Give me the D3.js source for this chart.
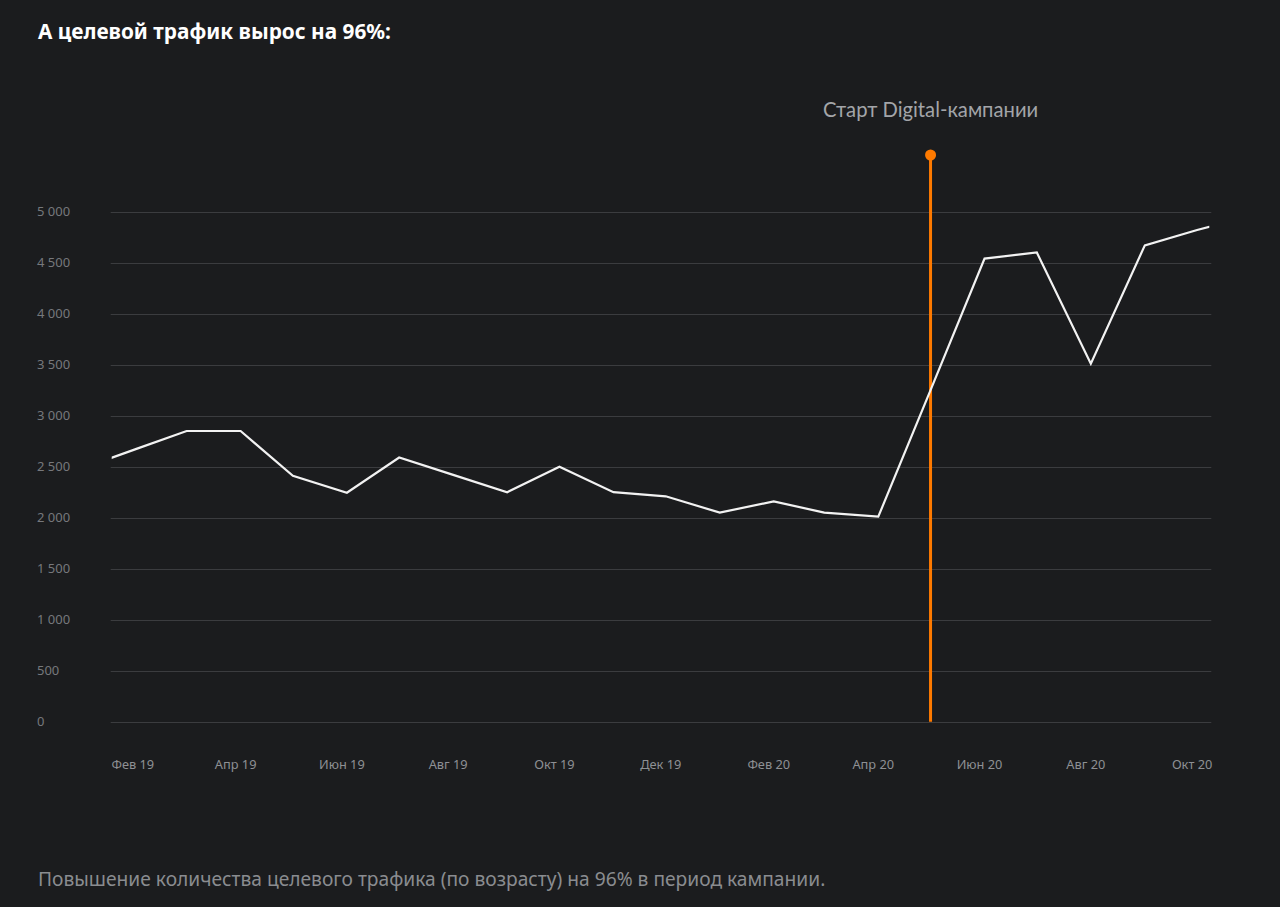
<!DOCTYPE html>
<html><head><meta charset="utf-8">
<script src="https://cdn.jsdelivr.net/npm/d3@7"></script>
<style>
html,body{margin:0;padding:0;background:#1b1c1e;}
svg{display:block;}
</style></head>
<body>
<svg id="chart" width="1280" height="907"></svg>
<script>
const months = ["2019-01","2019-02","2019-03","2019-04","2019-05","2019-06","2019-07","2019-08","2019-09","2019-10","2019-11","2019-12",
                "2020-01","2020-02","2020-03","2020-04","2020-05","2020-06","2020-07","2020-08","2020-09","2020-10","2020-11"];
const traffic = [2490,2680,2850,2850,2410,2245,2590,2420,2250,2500,2250,2210,
                 2050,2160,2050,2010,3250,4540,4600,3510,4670,4820,4960];
const yTicks = [0,500,1000,1500,2000,2500,3000,3500,4000,4500,5000];
const xTickMonths = ["2019-02","2019-04","2019-06","2019-08","2019-10","2019-12","2020-02","2020-04","2020-06","2020-08","2020-10"];
const xTickLabels = ["Фев 19","Апр 19","Июн 19","Авг 19","Окт 19","Дек 19","Фев 20","Апр 20","Июн 20","Авг 20","Окт 20"];
const campaignMonth = "2020-05";
const campaignLabel = "Старт Digital-кампании";
const titleText = "А целевой трафик вырос на 96%:";
const captionText = "Повышение количества целевого трафика (по возрасту) на 96% в период кампании.";

const parseM = s => { const [y,m] = s.split("-").map(Number); return new Date(Date.UTC(y, m-1, 1)); };

const svg = d3.select("#chart");
const L = 111.7, R = 1209.3, T = 211.7, B = 721.7;

const x = d3.scaleUtc().domain([new Date(Date.UTC(2019,0,17)), new Date(Date.UTC(2020,9,8))]).range([L, R]);
const y = d3.scaleLinear().domain([0, 5000]).range([B, T]);

// title
svg.append("text").attr("x", 38).attr("y", 39)
  .attr("font-family", "'Noto Sans', sans-serif").attr("font-weight", 700).attr("font-size", 20.8)
  .attr("fill", "#ffffff").text(titleText);

// grid
const grid = svg.append("g");
grid.selectAll("line").data(yTicks).join("line")
  .attr("x1", L - 1).attr("x2", R + 2)
  .attr("y1", d => Math.round(y(d)) + 0.5).attr("y2", d => Math.round(y(d)) + 0.5)
  .attr("stroke", "#3b3c3f").attr("stroke-width", 1);
grid.selectAll("text").data(yTicks).join("text")
  .attr("x", 37).attr("y", d => y(d) + 4.5)
  .attr("font-family", "'Noto Sans', sans-serif").attr("font-size", 13)
  .attr("fill", "#76787c").text(d => d === 0 ? "0" : d3.format(",")(d).replace(/,/g, " "));

// x labels
svg.append("g").selectAll("text").data(xTickMonths).join("text")
  .attr("x", d => x(parseM(d)) - 5).attr("y", 768.5)
  .attr("text-anchor", "middle")
  .attr("font-family", "'Noto Sans', sans-serif").attr("font-size", 12.8)
  .attr("fill", "#8e9094").text((d, i) => xTickLabels[i]);

// clip
svg.append("clipPath").attr("id", "plotclip").append("rect")
  .attr("x", L).attr("y", 0).attr("width", R - L).attr("height", 907);

const data = months.map((m, i) => ({ date: parseM(m), value: traffic[i] }));
const line = d3.line().x(d => x(d.date)).y(d => y(d.value));

// campaign marker
const cx = x(parseM(campaignMonth));
svg.append("line").attr("x1", cx).attr("x2", cx).attr("y1", 155).attr("y2", B)
  .attr("stroke", "#ff7a00").attr("stroke-width", 3);
svg.append("circle").attr("cx", cx).attr("cy", 155).attr("r", 5.5).attr("fill", "#ff7a00");
svg.append("text").attr("x", cx).attr("y", 117).attr("text-anchor", "middle")
  .attr("font-family", "Lato, sans-serif").attr("font-size", 20.2)
  .attr("fill", "#a3a5a9").text(campaignLabel);

svg.append("path").datum(data).attr("clip-path", "url(#plotclip)")
  .attr("d", line).attr("fill", "none").attr("stroke", "#f2f2f2").attr("stroke-width", 2.2)
  .attr("stroke-linejoin", "miter");

// caption
svg.append("text").attr("x", 38).attr("y", 886)
  .attr("font-family", "'Noto Sans', sans-serif").attr("font-size", 19.2)
  .attr("fill", "#8a8c90").text(captionText);
</script>
</body></html>
